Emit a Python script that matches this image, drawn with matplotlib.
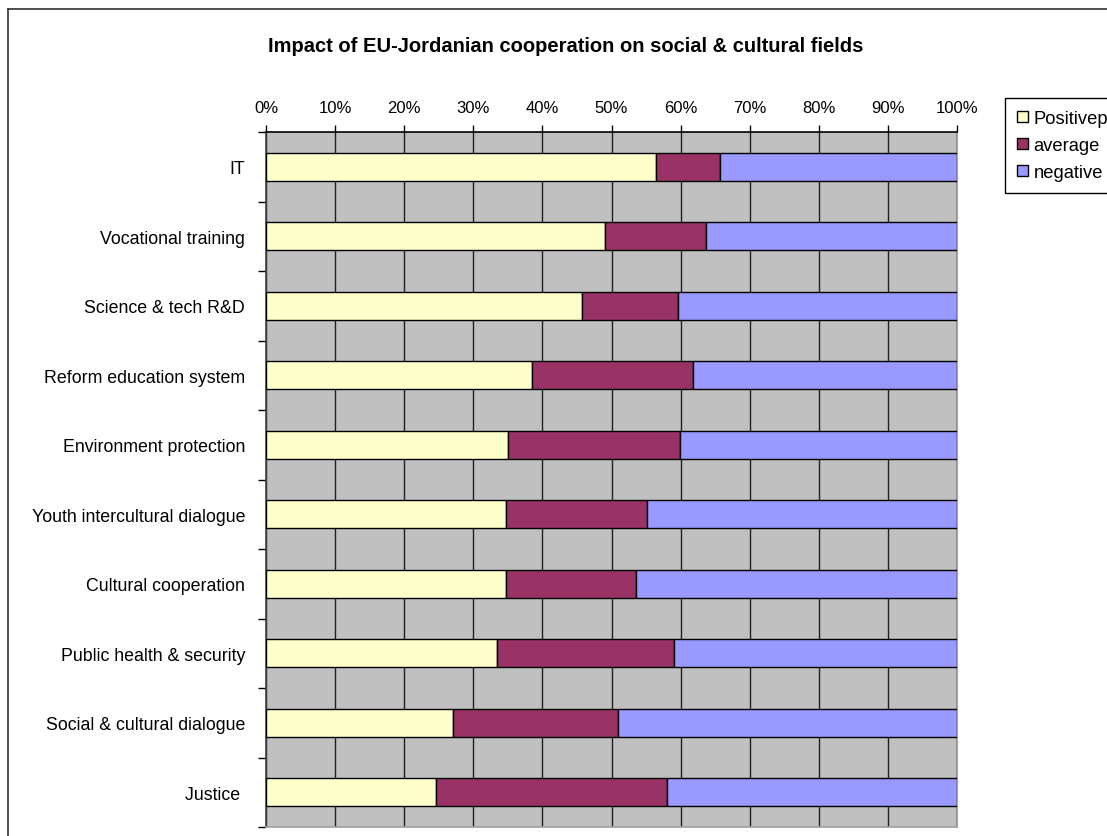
import matplotlib
matplotlib.use("Agg")
import matplotlib.pyplot as plt
from matplotlib.lines import Line2D
import numpy as np

plt.rcParams['font.family'] = ['Liberation Sans', 'DejaVu Sans']

categories = ['IT', 'Vocational training', 'Science & tech R&D', 'Reform education system',
              'Environment protection', 'Youth intercultural dialogue', 'Cultural cooperation',
              'Public health & security', 'Social & cultural dialogue', 'Justice ']
positive = [56.5, 49.1, 45.7, 38.5, 35.0, 34.8, 34.8, 33.5, 27.0, 24.6]
average = [9.2, 14.6, 13.9, 23.3, 24.9, 20.4, 18.8, 25.6, 24.0, 33.4]
negative = [34.3, 36.3, 40.4, 38.2, 40.1, 44.8, 46.4, 40.9, 49.0, 42.0]
series_names = ['Positivep', 'average', 'negative']
colors = ['#FFFFCC', '#993366', '#9999FF']

W, H = 1107, 837
fig = plt.figure(figsize=(W / 100, H / 100), dpi=100)
ax = fig.add_axes([266 / W, 1 - 828 / H, (957 - 266) / W, (828 - 133) / H])
ax.set_facecolor('#C0C0C0')

y = np.arange(len(categories))
left = np.zeros(len(categories))
for vals, name, col in zip([positive, average, negative], series_names, colors):
    ax.barh(y, vals, left=left, height=0.41, color=col, edgecolor='black',
            linewidth=1.0, label=name, zorder=3)
    left += np.array(vals)

ax.set_xlim(0, 100)
ax.set_ylim(len(categories) - 0.5, -0.5)

# percent axis on top, vertical grid every 10%
ax.xaxis.tick_top()
ax.set_xticks(np.arange(0, 101, 10))
ax.set_xticklabels([f'{v}%' for v in range(0, 101, 10)], fontsize=12)
ax.tick_params(axis='x', direction='out', length=5, width=1, pad=7, colors='black')
ax.grid(axis='x', color='#202020', linewidth=1.0, zorder=1)

# band boundaries get ticks, labels sit between them
ax.set_yticks(np.arange(-0.5, len(categories) + 0.5, 1))
ax.set_yticklabels([])
ax.set_yticks(y, minor=True)
ax.set_yticklabels(categories, minor=True, fontsize=12.8)
ax.tick_params(axis='y', which='major', direction='out', length=6, width=1)
ax.tick_params(axis='y', which='minor', length=0, pad=15)

ax.spines['top'].set_color('black')
ax.spines['left'].set_color('#404040')
ax.spines['right'].set_color('#909090')
ax.spines['bottom'].set_color('#A0A0A0')
for s in ax.spines.values():
    s.set_linewidth(1.2)

fig.text(566 / W, 1 - 46 / H, 'Impact of EU-Jordanian cooperation on social & cultural fields',
         ha='center', va='center', fontsize=14.5, fontweight='bold')

leg = fig.legend(loc='upper left', bbox_to_anchor=(1005 / W, 1 - 99 / H), fontsize=13.2,
                 frameon=True, fancybox=False, edgecolor='black', framealpha=1,
                 handlelength=0.6, handleheight=0.6, handletextpad=0.3,
                 borderpad=0.65, labelspacing=0.55, borderaxespad=0)
leg.get_frame().set_linewidth(1.0)

# outer chart frame
fig.add_artist(Line2D([8 / W, 8 / W], [0, 1 - 10 / H], transform=fig.transFigure,
                      color='#303030', linewidth=1.2))
fig.add_artist(Line2D([8 / W, 1], [1 - 10 / H, 1 - 10 / H], transform=fig.transFigure,
                      color='#303030', linewidth=1.2))

fig.savefig('out.png', dpi=100, facecolor='white')
